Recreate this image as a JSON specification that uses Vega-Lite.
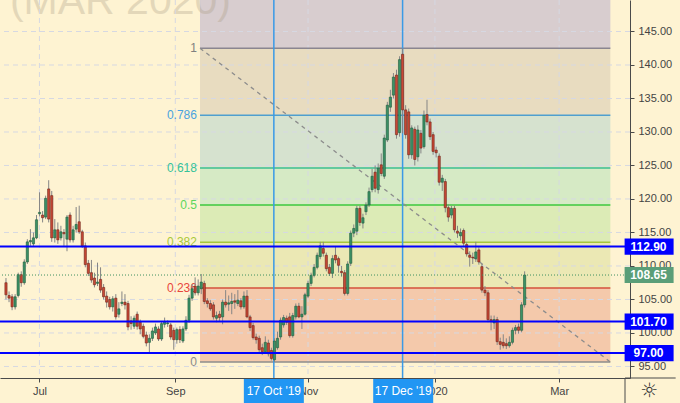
{
"$schema":"https://vega.github.io/schema/vega-lite/v6.json",
"width":630,"height":378,
"autosize":{"type":"none"},
"padding":{"left":0,"top":0,"right":50,"bottom":25},
"background":"#fef3d2",
"config":{"view":{"stroke":null},"font":"Liberation Sans"},
"resolve":{"axis":{"x":"independent","y":"independent"}},
"datasets":{
"bands":[{"k":"a","lo":142.5,"hi":150.5},{"k":"b","lo":132.48,"hi":142.5},{"k":"c","lo":124.61,"hi":132.48},{"k":"d","lo":119.09,"hi":124.61},{"k":"e","lo":113.56,"hi":119.09},{"k":"f","lo":106.72,"hi":113.56},{"k":"g","lo":95.67,"hi":106.72}],
"gridY":[{"p":95},{"p":100},{"p":105},{"p":110},{"p":115},{"p":120},{"p":125},{"p":130},{"p":135},{"p":140},{"p":145}],
"gridX":[{"t":10.97},{"t":55.5},{"t":99.0},{"t":140.6},{"t":181.3}],
"fib":[{"lvl":"1","p":142.5},{"lvl":"0.786","p":132.48},{"lvl":"0.618","p":124.61},{"lvl":"0.5","p":119.09},{"lvl":"0.382","p":113.56},{"lvl":"0.236","p":106.72},{"lvl":"0","p":95.67}],
"vlines":[{"t":87.8},{"t":130}],
"hlines":[{"p":112.9},{"p":101.7},{"p":97.0}],
"last":[{"p":108.65}],
"pbox":[{"p":112.9,"s":"112.90","k":"h"},{"p":108.65,"s":"108.65","k":"last"},{"p":101.7,"s":"101.70","k":"h"},{"p":97.0,"s":"97.00","k":"h"}],
"dbox":[{"t":87.8,"s":"17 Oct '19"},{"t":130.2,"s":"17 Dec '19"}],
"candles":[
{"t":0,"o":107.5,"h":108.2,"l":105.0,"c":105.7},
{"t":1,"o":105.6,"h":106.2,"l":104.6,"c":105.2},
{"t":2,"o":105.4,"h":105.8,"l":103.4,"c":103.9},
{"t":3,"o":103.9,"h":105.8,"l":103.5,"c":105.4},
{"t":4,"o":105.6,"h":109.0,"l":105.3,"c":108.7},
{"t":5,"o":108.7,"h":109.2,"l":106.9,"c":107.5},
{"t":6,"o":107.5,"h":111.0,"l":107.2,"c":110.6},
{"t":7,"o":110.6,"h":114.0,"l":110.3,"c":113.6},
{"t":8,"o":113.6,"h":115.5,"l":113.0,"c":113.8},
{"t":9,"o":113.3,"h":115.0,"l":113.0,"c":114.2},
{"t":10,"o":114.2,"h":117.6,"l":114.0,"c":116.9},
{"t":11,"o":117.8,"h":121.0,"l":117.4,"c":118.0},
{"t":12,"o":117.6,"h":118.2,"l":116.5,"c":117.2},
{"t":13,"o":117.3,"h":120.5,"l":117.0,"c":120.1},
{"t":14,"o":121.5,"h":122.8,"l":116.5,"c":117.0},
{"t":15,"o":120.5,"h":121.2,"l":113.6,"c":114.2},
{"t":16,"o":114.2,"h":117.0,"l":113.5,"c":115.4},
{"t":17,"o":115.4,"h":116.5,"l":113.3,"c":113.9},
{"t":18,"o":114.2,"h":116.0,"l":113.8,"c":115.1},
{"t":19,"o":115.0,"h":115.5,"l":113.0,"c":114.8},
{"t":20,"o":114.0,"h":117.6,"l":112.2,"c":117.3},
{"t":21,"o":117.6,"h":118.0,"l":113.5,"c":113.9},
{"t":22,"o":113.9,"h":116.0,"l":113.5,"c":115.4},
{"t":23,"o":115.5,"h":118.8,"l":115.0,"c":116.2},
{"t":24,"o":116.6,"h":119.0,"l":114.8,"c":115.1},
{"t":25,"o":115.1,"h":115.4,"l":112.7,"c":113.0},
{"t":26,"o":113.0,"h":113.5,"l":109.8,"c":110.2},
{"t":27,"o":110.4,"h":110.9,"l":108.5,"c":108.9},
{"t":28,"o":109.0,"h":110.9,"l":107.5,"c":107.9},
{"t":29,"o":108.2,"h":109.0,"l":106.8,"c":107.2},
{"t":30,"o":107.4,"h":110.5,"l":107.0,"c":107.6},
{"t":31,"o":108.0,"h":109.8,"l":106.0,"c":106.4},
{"t":32,"o":106.8,"h":107.3,"l":105.0,"c":105.4},
{"t":33,"o":105.5,"h":106.2,"l":103.8,"c":104.6},
{"t":34,"o":105.0,"h":105.4,"l":103.5,"c":103.9},
{"t":35,"o":103.9,"h":105.5,"l":103.2,"c":105.1},
{"t":36,"o":105.2,"h":105.8,"l":102.0,"c":102.4},
{"t":37,"o":102.8,"h":104.6,"l":102.3,"c":103.6},
{"t":38,"o":104.4,"h":106.2,"l":104.0,"c":104.6},
{"t":39,"o":104.6,"h":105.8,"l":103.5,"c":104.2},
{"t":40,"o":104.4,"h":104.8,"l":100.4,"c":100.9},
{"t":41,"o":101.8,"h":102.5,"l":100.5,"c":101.4},
{"t":42,"o":101.0,"h":102.6,"l":100.6,"c":102.2},
{"t":43,"o":102.8,"h":103.2,"l":100.5,"c":101.0},
{"t":44,"o":101.6,"h":102.0,"l":99.8,"c":100.6},
{"t":45,"o":101.0,"h":101.4,"l":99.2,"c":99.5},
{"t":46,"o":99.7,"h":100.2,"l":98.0,"c":98.5},
{"t":47,"o":98.6,"h":99.8,"l":97.1,"c":99.2},
{"t":48,"o":99.2,"h":100.8,"l":98.8,"c":100.3},
{"t":49,"o":100.0,"h":101.4,"l":99.7,"c":100.9},
{"t":50,"o":100.6,"h":101.0,"l":98.8,"c":99.1},
{"t":51,"o":99.1,"h":101.7,"l":98.8,"c":101.4},
{"t":52,"o":101.3,"h":102.3,"l":100.8,"c":101.7},
{"t":53,"o":101.4,"h":101.9,"l":100.9,"c":101.5},
{"t":54,"o":101.2,"h":101.5,"l":99.0,"c":99.4},
{"t":55,"o":100.4,"h":100.8,"l":97.5,"c":99.0},
{"t":56,"o":99.0,"h":100.8,"l":98.4,"c":100.5},
{"t":57,"o":100.5,"h":101.0,"l":98.5,"c":99.0},
{"t":58,"o":98.8,"h":101.0,"l":98.5,"c":100.6},
{"t":59,"o":100.6,"h":102.5,"l":100.3,"c":101.9},
{"t":60,"o":101.9,"h":105.7,"l":101.5,"c":105.2},
{"t":61,"o":105.2,"h":107.3,"l":104.8,"c":106.6},
{"t":62,"o":107.0,"h":108.3,"l":105.6,"c":106.0},
{"t":63,"o":106.0,"h":108.0,"l":105.6,"c":107.0},
{"t":64,"o":106.6,"h":108.8,"l":105.8,"c":107.6},
{"t":65,"o":107.4,"h":107.8,"l":104.3,"c":104.7},
{"t":66,"o":104.8,"h":105.2,"l":103.8,"c":104.4},
{"t":67,"o":104.4,"h":104.9,"l":103.3,"c":103.6},
{"t":68,"o":104.2,"h":104.6,"l":102.0,"c":102.4},
{"t":69,"o":102.2,"h":103.2,"l":101.6,"c":102.6},
{"t":70,"o":102.8,"h":103.3,"l":101.8,"c":102.3},
{"t":71,"o":102.4,"h":105.0,"l":101.3,"c":104.6},
{"t":72,"o":104.6,"h":106.4,"l":103.8,"c":104.2},
{"t":73,"o":104.3,"h":105.6,"l":103.3,"c":104.5},
{"t":74,"o":104.4,"h":106.0,"l":102.8,"c":104.7},
{"t":75,"o":104.8,"h":105.8,"l":103.6,"c":104.6},
{"t":76,"o":104.4,"h":106.4,"l":104.0,"c":104.9},
{"t":77,"o":104.8,"h":105.2,"l":103.5,"c":103.9},
{"t":78,"o":103.9,"h":106.2,"l":103.6,"c":105.5},
{"t":79,"o":105.5,"h":106.4,"l":102.2,"c":102.4},
{"t":80,"o":102.4,"h":102.7,"l":100.3,"c":100.8},
{"t":81,"o":101.1,"h":101.5,"l":99.0,"c":99.3},
{"t":82,"o":99.4,"h":99.9,"l":98.4,"c":99.0},
{"t":83,"o":99.2,"h":99.6,"l":97.0,"c":97.5},
{"t":84,"o":97.8,"h":98.4,"l":96.7,"c":97.2},
{"t":85,"o":97.2,"h":99.5,"l":96.9,"c":98.6},
{"t":86,"o":98.5,"h":99.0,"l":96.5,"c":96.9},
{"t":87,"o":97.4,"h":97.8,"l":95.9,"c":96.2},
{"t":88,"o":96.0,"h":99.2,"l":95.67,"c":98.8},
{"t":89,"o":97.8,"h":100.2,"l":97.5,"c":99.2},
{"t":90,"o":99.4,"h":102.3,"l":99.0,"c":101.9},
{"t":91,"o":101.2,"h":102.7,"l":100.8,"c":102.3},
{"t":92,"o":102.2,"h":102.6,"l":101.2,"c":101.6},
{"t":93,"o":102.4,"h":103.0,"l":99.3,"c":99.6},
{"t":94,"o":99.6,"h":103.0,"l":99.3,"c":102.6},
{"t":95,"o":102.4,"h":104.4,"l":102.0,"c":104.0},
{"t":96,"o":104.0,"h":104.5,"l":102.2,"c":102.4},
{"t":97,"o":102.4,"h":104.0,"l":100.6,"c":102.8},
{"t":98,"o":102.8,"h":106.0,"l":102.6,"c":105.7},
{"t":99,"o":105.5,"h":107.8,"l":105.2,"c":107.4},
{"t":100,"o":107.4,"h":109.0,"l":107.0,"c":108.6},
{"t":101,"o":108.6,"h":110.3,"l":108.3,"c":109.8},
{"t":102,"o":109.8,"h":112.0,"l":109.5,"c":111.6},
{"t":103,"o":111.4,"h":113.6,"l":111.0,"c":113.0},
{"t":104,"o":112.6,"h":113.6,"l":111.4,"c":111.9},
{"t":105,"o":111.6,"h":112.0,"l":109.2,"c":109.6},
{"t":106,"o":109.8,"h":110.3,"l":108.5,"c":108.9},
{"t":107,"o":108.9,"h":111.6,"l":108.2,"c":111.1},
{"t":108,"o":111.6,"h":112.9,"l":110.4,"c":110.9},
{"t":109,"o":111.1,"h":111.4,"l":109.0,"c":110.1},
{"t":110,"o":109.2,"h":110.0,"l":108.4,"c":109.0},
{"t":111,"o":109.0,"h":109.4,"l":105.6,"c":105.9},
{"t":112,"o":105.9,"h":110.7,"l":105.6,"c":110.3},
{"t":113,"o":110.4,"h":115.3,"l":110.0,"c":114.9},
{"t":114,"o":114.9,"h":116.2,"l":114.3,"c":115.6},
{"t":115,"o":115.2,"h":119.0,"l":114.6,"c":118.6},
{"t":116,"o":118.6,"h":119.0,"l":116.0,"c":116.5},
{"t":117,"o":116.4,"h":117.8,"l":115.6,"c":117.2},
{"t":118,"o":118.1,"h":119.5,"l":117.6,"c":119.1},
{"t":119,"o":119.1,"h":121.7,"l":118.8,"c":121.1},
{"t":120,"o":121.4,"h":124.5,"l":121.0,"c":123.4},
{"t":121,"o":124.0,"h":125.0,"l":121.0,"c":121.6},
{"t":122,"o":121.4,"h":125.3,"l":120.8,"c":124.6},
{"t":123,"o":125.1,"h":126.8,"l":123.4,"c":123.8},
{"t":124,"o":123.4,"h":129.6,"l":123.0,"c":129.1},
{"t":125,"o":128.8,"h":134.5,"l":128.5,"c":134.0},
{"t":126,"o":133.7,"h":136.3,"l":133.0,"c":135.2},
{"t":127,"o":135.5,"h":138.8,"l":135.0,"c":138.2},
{"t":128,"o":138.5,"h":139.3,"l":129.0,"c":129.6},
{"t":129,"o":129.9,"h":141.3,"l":129.3,"c":140.8},
{"t":130,"o":141.6,"h":142.5,"l":129.8,"c":133.3},
{"t":131,"o":133.3,"h":134.0,"l":129.0,"c":129.6},
{"t":132,"o":133.0,"h":133.5,"l":126.0,"c":126.6},
{"t":133,"o":126.6,"h":131.0,"l":126.0,"c":130.6},
{"t":134,"o":130.4,"h":130.8,"l":125.0,"c":125.9},
{"t":135,"o":126.3,"h":131.0,"l":125.6,"c":130.3},
{"t":136,"o":129.8,"h":130.3,"l":126.8,"c":127.6},
{"t":137,"o":127.8,"h":133.2,"l":127.5,"c":132.5},
{"t":138,"o":132.6,"h":134.8,"l":131.0,"c":131.5},
{"t":139,"o":131.5,"h":132.0,"l":128.8,"c":129.3},
{"t":140,"o":129.6,"h":130.0,"l":126.6,"c":127.1},
{"t":141,"o":127.3,"h":127.8,"l":126.2,"c":126.9},
{"t":142,"o":126.4,"h":126.8,"l":122.0,"c":122.5},
{"t":143,"o":122.5,"h":123.6,"l":121.2,"c":123.1},
{"t":144,"o":122.6,"h":123.0,"l":118.0,"c":118.7},
{"t":145,"o":118.7,"h":119.2,"l":116.6,"c":117.3},
{"t":146,"o":117.6,"h":119.0,"l":117.1,"c":118.6},
{"t":147,"o":118.6,"h":119.0,"l":115.0,"c":115.4},
{"t":148,"o":115.2,"h":116.0,"l":114.2,"c":114.9},
{"t":149,"o":114.5,"h":115.6,"l":113.8,"c":115.0},
{"t":150,"o":115.3,"h":115.6,"l":113.0,"c":113.4},
{"t":151,"o":113.2,"h":113.6,"l":111.4,"c":111.8},
{"t":152,"o":111.6,"h":112.2,"l":109.9,"c":111.3},
{"t":153,"o":111.3,"h":112.0,"l":110.3,"c":111.2},
{"t":154,"o":111.1,"h":113.6,"l":110.6,"c":112.1},
{"t":155,"o":112.4,"h":112.8,"l":110.2,"c":110.6},
{"t":156,"o":109.9,"h":110.3,"l":106.0,"c":106.4},
{"t":157,"o":106.4,"h":107.0,"l":105.5,"c":106.0},
{"t":158,"o":106.0,"h":106.4,"l":101.6,"c":102.0},
{"t":159,"o":102.0,"h":102.6,"l":100.4,"c":101.7},
{"t":160,"o":101.5,"h":102.6,"l":100.6,"c":102.0},
{"t":161,"o":102.0,"h":102.4,"l":98.2,"c":98.7},
{"t":162,"o":98.7,"h":99.3,"l":97.5,"c":98.3},
{"t":163,"o":98.6,"h":99.8,"l":97.7,"c":98.1},
{"t":164,"o":98.4,"h":99.2,"l":97.6,"c":98.1},
{"t":165,"o":98.1,"h":99.5,"l":97.8,"c":98.6},
{"t":166,"o":98.6,"h":100.8,"l":98.3,"c":100.4},
{"t":167,"o":100.4,"h":101.2,"l":99.8,"c":100.8},
{"t":168,"o":100.9,"h":101.4,"l":99.9,"c":100.4},
{"t":169,"o":100.4,"h":104.6,"l":100.1,"c":104.2},
{"t":170,"o":104.2,"h":109.2,"l":103.8,"c":108.65}
]},
"layer":[
{"data":{"name":"candles"},"mark":{"type":"rule","color":"#858585","strokeWidth":1,"opacity":0},
 "encoding":{"x":{"field":"t","type":"quantitative","scale":{"domain":[-0.3226,202.9],"nice":false,"zero":false},
   "axis":{"title":null,"values":[10.97,55.5,99.0,140.6,181.3],"labelExpr":"datum.value < 20 ? 'Jul' : datum.value < 60 ? 'Sep' : datum.value < 120 ? 'Nov' : datum.value < 160 ? '2020' : 'Mar'","grid":false,"domainColor":"#4a4a4a","tickColor":"#4a4a4a","tickSize":4,"labelPadding":3,"labelFontSize":11,"labelColor":"#444444","labelOverlap":false,"labelFlush":false,"labelBound":false}},
 "y":{"field":"l","type":"quantitative","scale":{"domain":[93.28,149.7],"nice":false,"zero":false},
   "axis":{"title":null,"orient":"right","values":[95,100,105,110,115,120,125,130,135,140,145,150],"format":".2f","grid":false,"domainColor":"#4a4a4a","tickColor":"#4a4a4a","tickSize":4,"labelPadding":4,"labelFontSize":11,"labelColor":"#444444","labelOverlap":false,"labelBound":false,"labelFlush":false}},
 "y2":{"field":"h"}}},
{"data":{"name":"bands"},"mark":{"type":"rect"},
 "encoding":{"x":{"datum":63.6,"type":"quantitative","scale":{"domain":[-0.3226,202.9],"nice":false,"zero":false},"axis":null},"x2":{"datum":198.1},
 "y":{"field":"lo","type":"quantitative","scale":{"domain":[93.28,149.7],"nice":false,"zero":false},"axis":null},"y2":{"field":"hi"},
 "fill":{"field":"k","type":"nominal","legend":null,"scale":{"domain":["a","b","c","d","e","f","g"],"range":["#d8cdcf","#e8dcc0","#d6e2cf","#d6eac5","#dcebb6","#ebe8b4","#f4c9ab"]}}}},
{"data":{"values":[{"s":"(MAR 2020)"}]},"mark":{"type":"text","align":"left","baseline":"alphabetic","fontSize":41,"color":"#a89a80","opacity":0.3},
 "encoding":{"x":{"datum":1.3,"type":"quantitative","scale":{"domain":[-0.3226,202.9],"nice":false,"zero":false},"axis":null},
 "y":{"datum":147.61,"type":"quantitative","scale":{"domain":[93.28,149.7],"nice":false,"zero":false},"axis":null},"text":{"field":"s"}}},
{"data":{"name":"gridY"},"mark":{"type":"rule","color":"#d6d8e2","strokeWidth":1,"strokeDash":[5,4]},
 "encoding":{"y":{"field":"p","type":"quantitative","scale":{"domain":[93.28,149.7],"nice":false,"zero":false},"axis":null}}},
{"data":{"name":"gridX"},"mark":{"type":"rule","color":"#d6d8e2","strokeWidth":1,"strokeDash":[5,4]},
 "encoding":{"x":{"field":"t","type":"quantitative","scale":{"domain":[-0.3226,202.9],"nice":false,"zero":false},"axis":null}}},
{"data":{"name":"fib"},"mark":{"type":"rule","strokeWidth":1.5},
 "encoding":{"x":{"datum":63.6,"type":"quantitative","scale":{"domain":[-0.3226,202.9],"nice":false,"zero":false},"axis":null},"x2":{"datum":198.1},
 "y":{"field":"p","type":"quantitative","scale":{"domain":[93.28,149.7],"nice":false,"zero":false},"axis":null},
 "stroke":{"field":"lvl","type":"nominal","legend":null,"scale":{"domain":["1","0.786","0.618","0.5","0.382","0.236","0"],"range":["#8a8590","#4f9fcf","#3bbf8f","#3cc83c","#a6c83a","#d4503c","#8c8c8c"]}}}},
{"data":{"name":"fib"},"mark":{"type":"text","align":"right","baseline":"middle","fontSize":12},
 "encoding":{"x":{"datum":62.6,"type":"quantitative","scale":{"domain":[-0.3226,202.9],"nice":false,"zero":false},"axis":null},
 "y":{"field":"p","type":"quantitative","scale":{"domain":[93.28,149.7],"nice":false,"zero":false},"axis":null},
 "text":{"field":"lvl"},
 "color":{"field":"lvl","type":"nominal","legend":null,"scale":{"domain":["1","0.786","0.618","0.5","0.382","0.236","0"],"range":["#808080","#4aa3df","#35c29a","#5cd65c","#a8c838","#e8453c","#8a8a8a"]}}}},
{"data":{"values":[{"k":1}]},"mark":{"type":"rule","color":"#8c8c8c","strokeWidth":1.3,"strokeDash":[4,4]},
 "encoding":{"x":{"datum":63.6,"type":"quantitative","scale":{"domain":[-0.3226,202.9],"nice":false,"zero":false},"axis":null},"x2":{"datum":198.1},
 "y":{"datum":142.5,"type":"quantitative","scale":{"domain":[93.28,149.7],"nice":false,"zero":false},"axis":null},"y2":{"datum":95.67}}},
{"data":{"name":"vlines"},"mark":{"type":"rule","color":"#3a9ae6","strokeWidth":1.5},
 "encoding":{"x":{"field":"t","type":"quantitative","scale":{"domain":[-0.3226,202.9],"nice":false,"zero":false},"axis":null}}},
{"data":{"name":"candles"},"mark":{"type":"rule","color":"#858585","strokeWidth":1},
 "encoding":{"x":{"field":"t","type":"quantitative","scale":{"domain":[-0.3226,202.9],"nice":false,"zero":false},"axis":null},
 "y":{"field":"l","type":"quantitative","scale":{"domain":[93.28,149.7],"nice":false,"zero":false},"axis":null},
 "y2":{"field":"h"}}},
{"data":{"name":"candles"},"mark":{"type":"bar","size":2.2,"strokeWidth":0.6},
 "encoding":{"x":{"field":"t","type":"quantitative","scale":{"domain":[-0.3226,202.9],"nice":false,"zero":false},"axis":null},
 "y":{"field":"o","type":"quantitative","scale":{"domain":[93.28,149.7],"nice":false,"zero":false},"axis":null},"y2":{"field":"c"},
 "color":{"condition":{"test":"datum.c >= datum.o","value":"#3b9266"},"value":"#c84835"},
 "stroke":{"condition":{"test":"datum.c >= datum.o","value":"#1f5a3c"},"value":"#6e2418"}}},
{"data":{"name":"last"},"mark":{"type":"rule","color":"#3f8f5f","strokeWidth":1,"strokeDash":[1,2]},
 "encoding":{"y":{"field":"p","type":"quantitative","scale":{"domain":[93.28,149.7],"nice":false,"zero":false},"axis":null}}},
{"data":{"name":"hlines"},"mark":{"type":"rule","color":"#0000ff","strokeWidth":2},
 "encoding":{"y":{"field":"p","type":"quantitative","scale":{"domain":[93.28,149.7],"nice":false,"zero":false},"axis":null}}},
{"data":{"values":[{"k":1}]},"mark":{"type":"rule","color":"#4a4a4a","strokeWidth":1},
 "encoding":{"x":{"datum":202.9,"type":"quantitative","scale":{"domain":[-0.3226,202.9],"nice":false,"zero":false},"axis":null},
 "y":{"datum":93.28,"type":"quantitative","scale":{"domain":[93.28,149.7],"nice":false,"zero":false},"axis":null},"y2":{"datum":89.4}}},
{"data":{"values":[{"k":1}]},"mark":{"type":"rule","color":"#4a4a4a","strokeWidth":1},
 "encoding":{"x":{"datum":202.9,"type":"quantitative","scale":{"domain":[-0.3226,202.9],"nice":false,"zero":false},"axis":null},"x2":{"datum":219.5},
 "y":{"datum":93.28,"type":"quantitative","scale":{"domain":[93.28,149.7],"nice":false,"zero":false},"axis":null}}},
{"data":{"name":"pbox"},"mark":{"type":"point","shape":"M-1,-0.33L1,-0.33L1,0.33L-1,0.33Z","size":2401,"filled":true,"opacity":1,"strokeWidth":0},
 "encoding":{"x":{"datum":210.8,"type":"quantitative","scale":{"domain":[-0.3226,202.9],"nice":false,"zero":false},"axis":null},
 "y":{"field":"p","type":"quantitative","scale":{"domain":[93.28,149.7],"nice":false,"zero":false},"axis":null},
 "fill":{"condition":{"test":"datum.k == 'last'","value":"#5a9e78"},"value":"#0000ff"}}},
{"data":{"name":"pbox"},"mark":{"type":"text","align":"center","baseline":"middle","fontSize":12,"fontWeight":"bold","color":"#ffffff"},
 "encoding":{"x":{"datum":210.6,"type":"quantitative","scale":{"domain":[-0.3226,202.9],"nice":false,"zero":false},"axis":null},
 "y":{"field":"p","type":"quantitative","scale":{"domain":[93.28,149.7],"nice":false,"zero":false},"axis":null},"text":{"field":"s"}}},
{"data":{"name":"dbox"},"mark":{"type":"point","shape":"M-1,-0.4L1,-0.4L1,0.4L-1,0.4Z","size":3600,"filled":true,"opacity":1,"strokeWidth":0,"color":"#2196f3"},
 "encoding":{"x":{"field":"t","type":"quantitative","scale":{"domain":[-0.3226,202.9],"nice":false,"zero":false},"axis":null},
 "y":{"datum":91.34,"type":"quantitative","scale":{"domain":[93.28,149.7],"nice":false,"zero":false},"axis":null}}},
{"data":{"name":"dbox"},"mark":{"type":"text","align":"center","baseline":"middle","fontSize":12,"color":"#ffffff"},
 "encoding":{"x":{"field":"t","type":"quantitative","scale":{"domain":[-0.3226,202.9],"nice":false,"zero":false},"axis":null},
 "y":{"datum":91.34,"type":"quantitative","scale":{"domain":[93.28,149.7],"nice":false,"zero":false},"axis":null},"text":{"field":"s"}}},
{"data":{"values":[{"s":"☼"}]},"mark":{"type":"text","align":"center","baseline":"middle","fontSize":20,"font":"DejaVu Sans","color":"#333333"},
 "encoding":{"x":{"datum":210.8,"type":"quantitative","scale":{"domain":[-0.3226,202.9],"nice":false,"zero":false},"axis":null},
 "y":{"datum":91.34,"type":"quantitative","scale":{"domain":[93.28,149.7],"nice":false,"zero":false},"axis":null},"text":{"field":"s"}}}
]
}
